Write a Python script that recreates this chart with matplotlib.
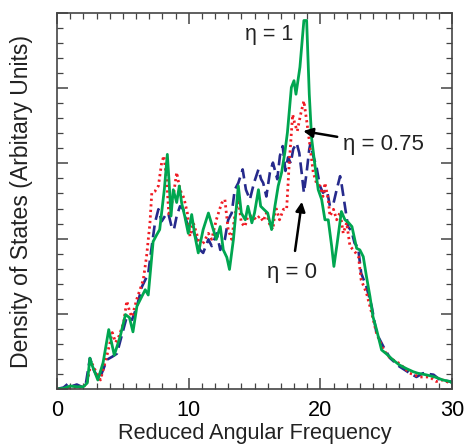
import matplotlib
matplotlib.use("Agg")
import matplotlib.pyplot as plt
from matplotlib.ticker import MultipleLocator

plt.rcParams['font.family'] = ['Liberation Sans', 'DejaVu Sans']

# eta = 1 (green, solid)
freq_eta1 = [0, 0.5, 1, 1.5, 2, 2.3, 2.5, 2.7, 3.1, 3.5, 3.93, 4.35, 4.8, 5.2, 5.5, 5.77, 6.07,
             6.5, 6.7, 6.93, 7.3, 7.57, 7.8, 7.95, 8.15, 8.38, 8.5, 8.66, 8.83, 9.09, 9.29, 9.47,
             9.7, 9.97, 10.23, 10.48, 10.73, 11.1, 11.5, 11.87, 12.1, 12.4, 12.63, 12.9, 13.1,
             13.4, 13.77, 14.0, 14.3, 14.5, 14.8, 15.0, 15.3, 15.47, 15.7, 16.0, 16.3, 16.55,
             16.8, 17.06, 17.3, 17.5, 17.8, 18.0, 18.15, 18.45, 18.75, 18.96, 19.16, 19.34, 19.6,
             19.84, 20.1, 20.35, 20.6, 20.86, 21.03, 21.28, 21.6, 21.87, 22.1, 22.4, 22.76, 23.0,
             23.26, 23.5, 23.77, 24.0, 24.27, 24.65, 25.0, 25.5, 26.0, 26.55, 27.05, 27.4, 28.0,
             28.7, 29.3, 29.85, 30]
dos_eta1 = [0, 0.01, 0.04, 0.03, 0.03, 0.08, 0.41, 0.30, 0.12, 0.35, 0.79, 0.45, 0.70, 0.99, 0.95,
            0.76, 1.10, 1.25, 1.32, 1.25, 1.96, 2.05, 2.12, 2.35, 2.65, 3.12, 2.79, 2.30, 2.65, 2.48,
            2.70, 2.47, 2.30, 2.07, 2.32, 2.03, 1.81, 2.12, 2.34, 2.12, 1.99, 2.16, 1.85, 1.75, 1.59,
            1.99, 2.70, 2.34, 2.25, 2.43, 2.21, 2.34, 2.65, 2.43, 2.39, 2.34, 2.12, 2.43, 2.70, 2.88,
            3.14, 3.41, 4.01, 4.10, 3.92, 4.28, 4.90, 4.90, 3.92, 3.33, 2.96, 2.65, 2.52, 2.25, 2.25,
            1.90, 1.63, 1.94, 2.36, 2.25, 2.22, 2.16, 1.87, 1.85, 1.76, 1.50, 1.23, 0.96, 0.79, 0.52,
            0.47, 0.39, 0.32, 0.27, 0.23, 0.21, 0.19, 0.16, 0.12, 0.10, 0.08]

# eta = 0.75 (red, dotted)
freq_eta075 = [0, 1, 1.5, 2, 2.3, 2.6, 2.9, 3.3, 3.8, 4.2, 4.45, 4.7, 5.06, 5.3, 5.55, 5.7, 6.07,
               6.55, 6.8, 7.06, 7.2, 7.44, 7.7, 7.95, 8.12, 8.33, 8.5, 8.83, 9.09, 9.34, 9.64, 9.9,
               10.1, 10.35, 10.6, 10.86, 11.1, 11.5, 11.75, 12.1, 12.5, 12.75, 13.0, 13.27, 13.5,
               13.77, 14.0, 14.27, 14.5, 14.9, 15.1, 15.4, 15.66, 15.9, 16.2, 16.4, 16.6, 16.9,
               17.2, 17.44, 17.64, 17.9, 18.07, 18.25, 18.5, 18.75, 18.96, 19.2, 19.46, 19.7, 19.97,
               20.2, 20.35, 20.6, 20.73, 21.0, 21.24, 21.5, 21.74, 22.0, 22.25, 22.6, 22.9, 23.1,
               23.5, 23.9, 24.27, 24.8, 25.3, 26.0, 26.8, 27.56, 28.3, 28.8, 29.3, 29.85, 30]
dos_eta075 = [0, 0.01, 0.03, 0.02, 0.10, 0.36, 0.25, 0.12, 0.45, 0.75, 0.62, 0.70, 0.88, 1.17,
              1.01, 0.96, 1.20, 1.45, 1.76, 2.21, 2.61, 2.63, 2.70, 3.01, 3.10, 2.79, 2.30, 2.56,
              2.88, 2.65, 2.54, 2.34, 2.03, 2.21, 2.07, 1.90, 1.94, 2.07, 1.99, 2.25, 2.47, 2.52,
              2.12, 1.99, 2.30, 2.52, 2.21, 2.16, 2.30, 2.30, 2.25, 2.30, 2.23, 2.34, 2.16, 2.12,
              2.43, 2.25, 2.39, 2.39, 3.01, 3.65, 3.52, 3.43, 3.65, 3.83, 3.57, 3.25, 2.88, 2.74,
              2.70, 2.56, 2.74, 2.52, 2.30, 2.39, 2.25, 2.35, 2.07, 2.21, 1.90, 1.83, 1.76, 1.45,
              1.28, 1.01, 0.74, 0.52, 0.41, 0.34, 0.21, 0.16, 0.16, 0.10, 0.12, 0.08, 0.07]

# eta = 0 (blue, dashed)
freq_eta0 = [0, 0.5, 0.9, 1.2, 1.5, 2.0, 2.2, 2.5, 2.8, 3.2, 3.8, 4.2, 4.55, 4.9, 5.3, 5.7, 6.07,
             6.45, 6.7, 6.93, 7.2, 7.44, 7.7, 7.95, 8.2, 8.45, 8.7, 8.88, 9.09, 9.34, 9.6, 9.8,
             10.05, 10.3, 10.6, 10.86, 11.1, 11.5, 11.75, 12.13, 12.4, 12.75, 13.0, 13.27, 13.5,
             13.77, 14.1, 14.35, 14.65, 14.96, 15.3, 15.5, 15.66, 15.9, 16.17, 16.4, 16.73, 16.93,
             17.14, 17.35, 17.55, 17.75, 17.94, 18.2, 18.4, 18.58, 18.75, 18.96, 19.16, 19.26,
             19.46, 19.7, 19.97, 20.2, 20.5, 20.73, 21.0, 21.24, 21.5, 21.6, 21.87, 22.1, 22.37,
             22.6, 22.87, 23.1, 23.5, 23.9, 24.27, 24.8, 25.3, 26.0, 26.8, 27.3, 27.8, 28.6, 29.1,
             29.85, 30]
dos_eta0 = [0, 0.02, 0.08, 0.04, 0.06, 0.02, 0.08, 0.41, 0.25, 0.12, 0.39, 0.43, 0.47, 0.70,
            0.96, 0.92, 1.10, 1.36, 1.45, 1.54, 1.90, 2.21, 2.39, 2.23, 2.30, 2.34, 2.16, 2.12,
            2.30, 2.43, 2.39, 2.25, 2.12, 2.12, 1.99, 1.85, 1.81, 1.99, 1.90, 2.07, 1.85, 1.99,
            2.25, 2.34, 2.65, 2.74, 2.92, 2.65, 2.52, 2.74, 2.92, 2.79, 2.74, 2.56, 2.88, 3.01,
            2.79, 3.10, 3.23, 2.90, 3.08, 3.00, 3.19, 3.27, 3.14, 2.88, 2.61, 2.88, 3.19, 3.27,
            3.10, 2.96, 2.70, 2.61, 2.65, 2.43, 2.47, 2.65, 2.83, 2.74, 2.43, 2.16, 2.10, 1.94,
            1.88, 1.54, 1.36, 1.10, 0.74, 0.56, 0.41, 0.30, 0.21, 0.16, 0.21, 0.19, 0.12, 0.10,
            0.09]

fig = plt.figure(figsize=(4.67, 4.46), dpi=100)
ax = fig.add_axes([57/467, 57/446, 395/467, 376/446])

ax.plot(freq_eta0, dos_eta0, color='#262a8c', lw=1.9, linestyle=(0, (4.5, 2.2)))
ax.plot(freq_eta075, dos_eta075, color='#f01c24', lw=2.0, linestyle=(0, (0.8, 1.2)))
ax.plot(freq_eta1, dos_eta1, color='#00a650', lw=2.0)

ax.set_xlim(0, 30)
ax.set_ylim(0, 5)
ax.xaxis.set_major_locator(MultipleLocator(10))
ax.xaxis.set_minor_locator(MultipleLocator(1))
ax.yaxis.set_major_locator(MultipleLocator(1))
ax.yaxis.set_minor_locator(MultipleLocator(0.2))
ax.tick_params(which='both', direction='in', top=True, right=True, color='#444444')
ax.tick_params(which='major', length=8, width=1.1, labelsize=15.6, pad=8)
ax.tick_params(which='minor', length=4, width=0.9)
ax.tick_params(axis='y', labelleft=False)
for s in ax.spines.values():
    s.set_color('#444444')
    s.set_linewidth(1.2)

ax.set_xlabel('Reduced Angular Frequency', fontsize=15.6, labelpad=1, color='#222222')
ax.set_ylabel('Density of States (Arbitary Units)', fontsize=16.6, labelpad=14, color='#222222')

ax.text(16.1, 4.72, 'η = 1', fontsize=15.5, ha='center', va='center', color='#222222')
ax.annotate('η = 0.75', xy=(18.7, 3.43), xytext=(21.7, 3.25), fontsize=16,
            ha='left', va='center', color='#222222',
            arrowprops=dict(arrowstyle='-|>', color='black', lw=1.8,
                            mutation_scale=14, shrinkA=2, shrinkB=0))
ax.annotate('η = 0', xy=(18.6, 2.49), xytext=(17.85, 1.55), fontsize=16,
            ha='center', va='center', color='#222222',
            arrowprops=dict(arrowstyle='-|>', color='black', lw=1.8,
                            mutation_scale=14, shrinkA=6, shrinkB=0))

fig.savefig('out.png', dpi=100)
